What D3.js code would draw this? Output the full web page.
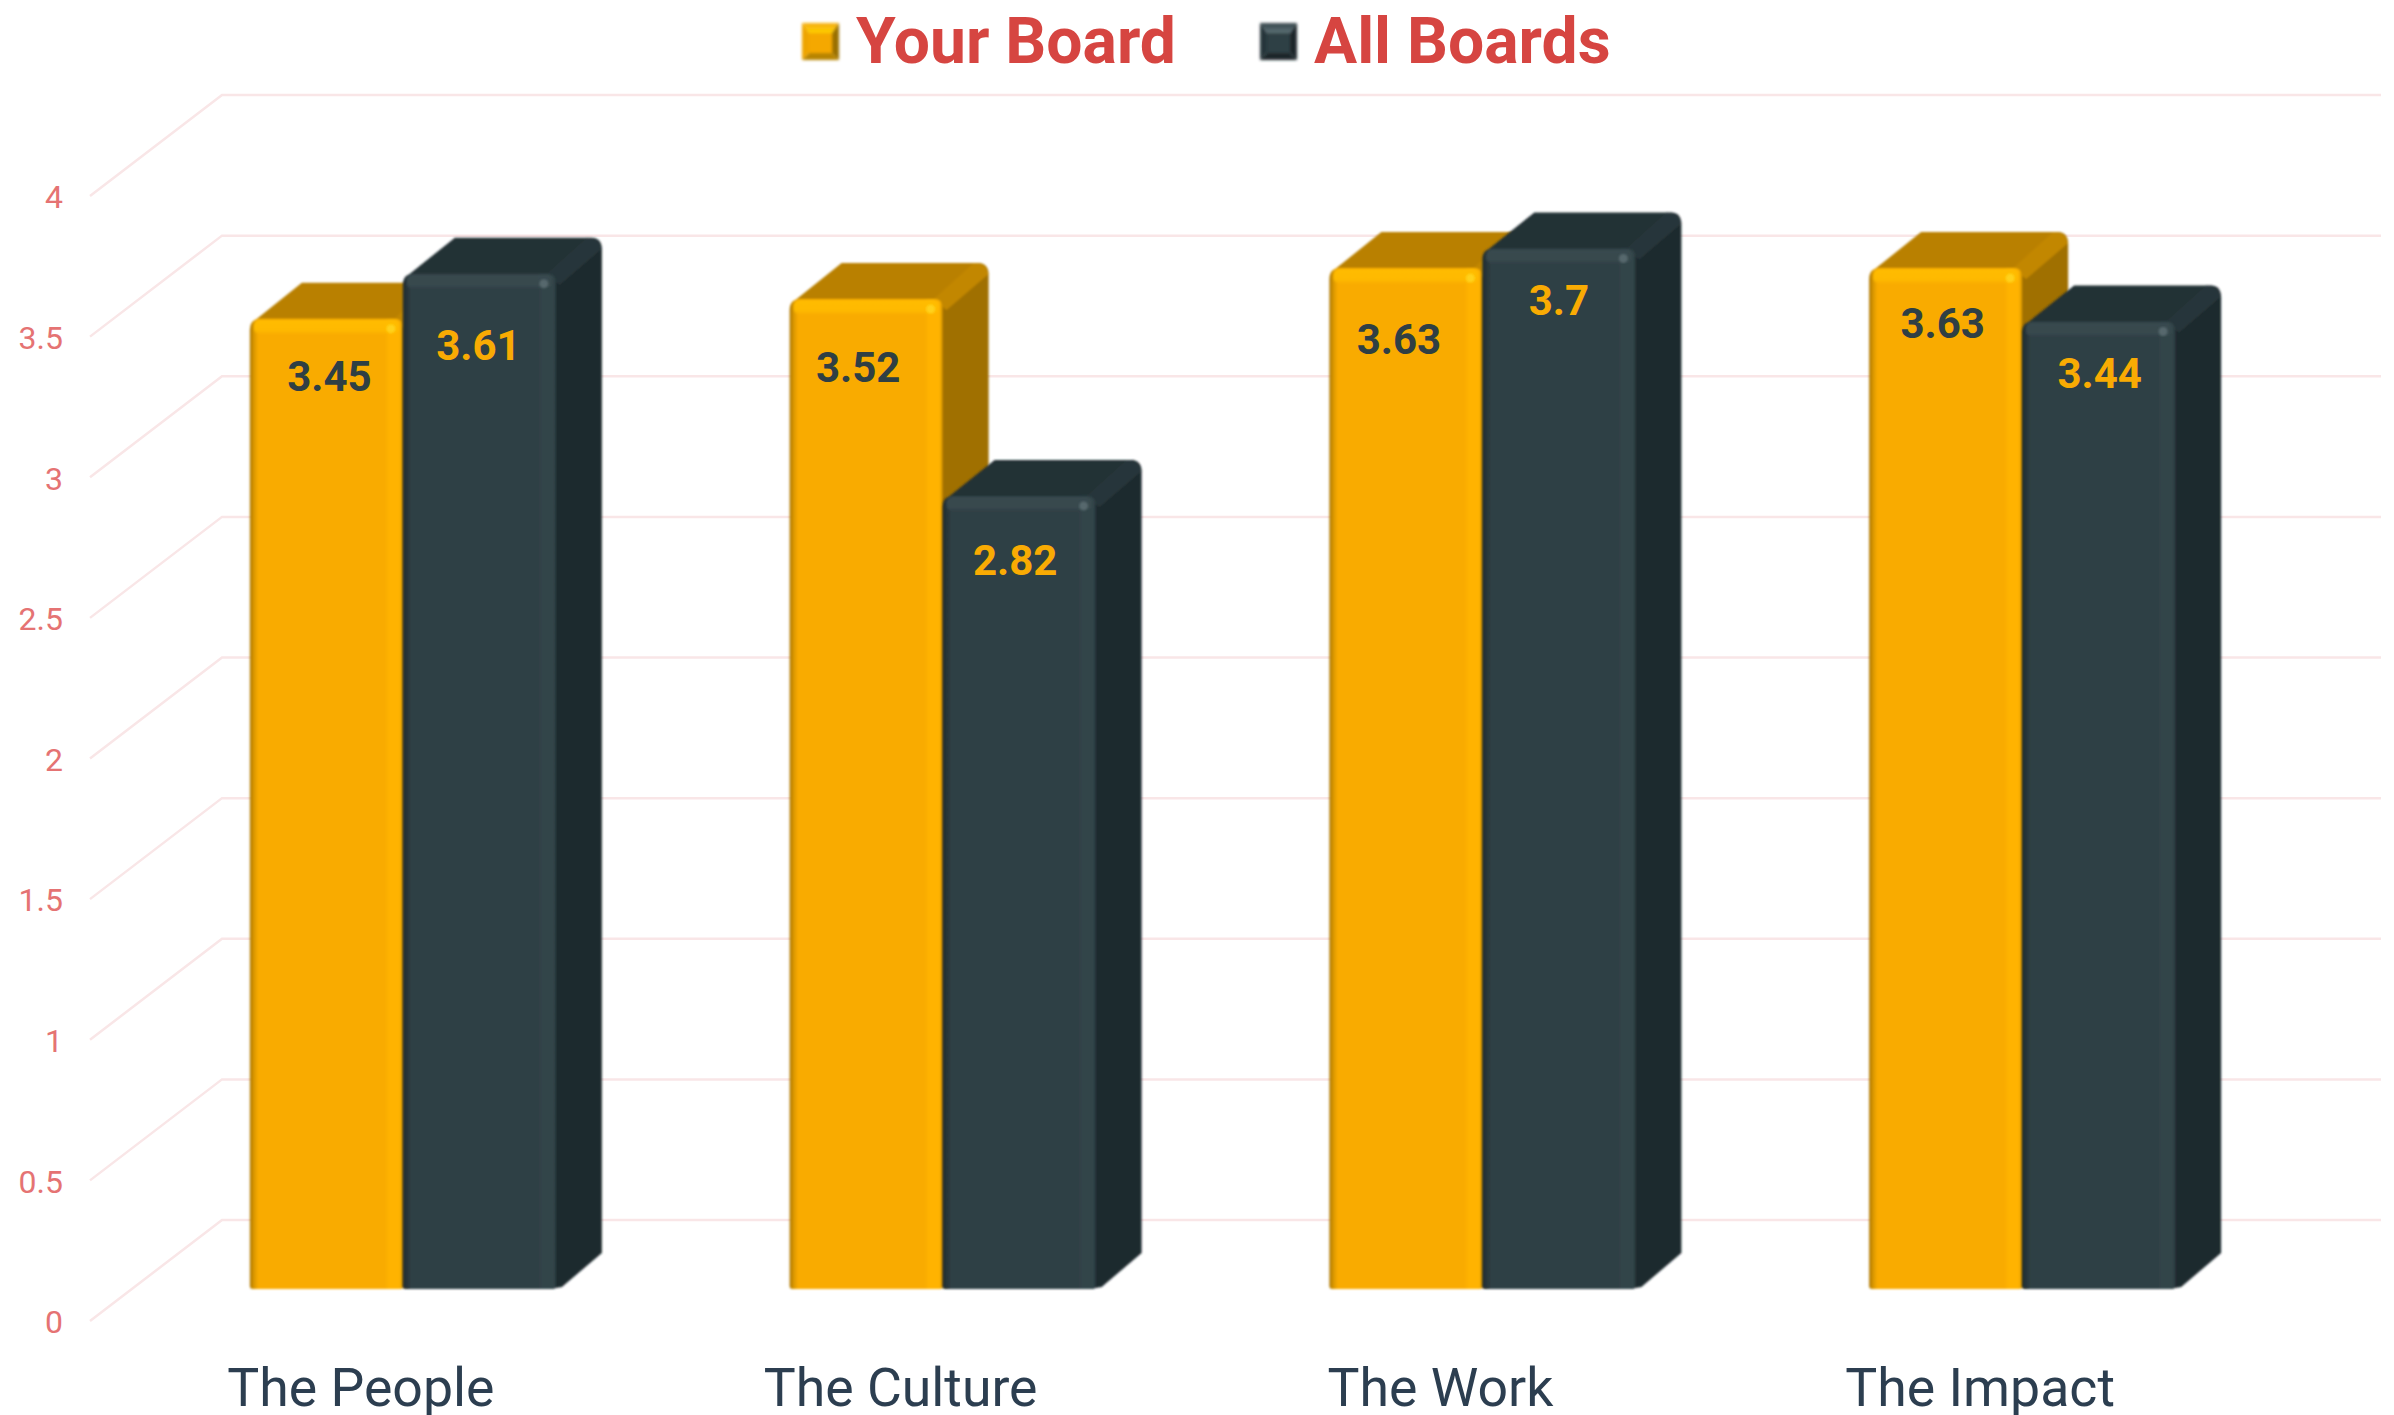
<!DOCTYPE html>
<html lang="en">
<head>
<meta charset="utf-8">
<title>Your Board vs All Boards</title>
<script src="https://d3js.org/d3.v7.min.js"></script>
<style>
html, body { margin: 0; padding: 0; background: #fff; }
svg { display: block; font-family: Roboto, sans-serif; }
.grid { stroke: #f9e6e7; stroke-width: 2.5px; fill: none; }
.axis text { font-family: Roboto, sans-serif; }
.y.axis text { font-size: 32px; fill: #e57373; }
.x.axis text { font-size: 53.6px; fill: #2c3e50; }
.axis path, .axis line { display: none; }
.value { font-size: 42px; font-weight: 700; text-anchor: middle; }
.legend text { font-size: 64.2px; font-weight: 700; fill: #d64541; }
</style>
</head>
<body>
<script>

// data
var categories = ["The People", "The Culture", "The Work", "The Impact"];
var seriesNames = ["Your Board", "All Boards"];
var yourBoard = [3.45, 3.52, 3.63, 3.63];
var allBoards = [3.61, 2.82, 3.7, 3.44];
var yTicks = [0, 0.5, 1, 1.5, 2, 2.5, 3, 3.5, 4];

// the value labels were hand placed in the original, so each has its own nudge
var yourLabelDx = [3, -8, -7, -3];
var yourLabelDrop = [72, 83, 86, 70];
var allLabelDx = [-1, -4, 0, 1];
var allLabelDrop = [86, 79, 67, 66];

var width = 2394, height = 1415;

// 3d box: floor runs from the front edge (frontX, y+frontY) to the back wall
var wall = {x: 132, y: 101};
var barDepth = {x: 46, y: 36};
var barInset = {x: 43, y: 32};
var plotLeft = 90, plotWidth = 2159;

var looks = [
  {front: "#f9ab03", top: "#b98000", side: "#a07000", edge: "#c28700", spot: "#ffd21a", text: "#2f3f44"},
  {front: "#2f3f44", top: "#243035", side: "#1f2a2e", edge: "#28363a", spot: "#56686d", text: "#f9ab03"}
];

var svg = d3.select("body").append("svg")
    .attr("width", width)
    .attr("height", height);

var defs = svg.append("defs");

defs.append("filter").attr("id", "soft")
    .append("feGaussianBlur").attr("stdDeviation", 1);
defs.append("filter").attr("id", "softer")
    .attr("x", "-50%").attr("y", "-50%").attr("width", "200%").attr("height", "200%")
    .append("feGaussianBlur").attr("stdDeviation", 1.8);

function addGradient(id, vertical, stops) {
  var g = defs.append("linearGradient").attr("id", id)
      .attr("x1", 0).attr("y1", 0)
      .attr("x2", vertical ? 0 : 1).attr("y2", vertical ? 1 : 0);
  stops.forEach(function(s) {
    g.append("stop").attr("offset", s[0]).attr("stop-color", s[1]).attr("stop-opacity", s[2] === undefined ? 1 : s[2]);
  });
}

addGradient("front0", false, [[0, "#a97400"], [0.025, "#d89600"], [0.055, "#f9ab03"], [0.885, "#f9ab03"], [0.91, "#ffb300"], [0.98, "#ffb300"], [1, "#cf9000"]]);
addGradient("front1", false, [[0, "#1f2b2f"], [0.055, "#2f3f44"], [0.885, "#2f3f44"], [0.91, "#324449"], [0.985, "#324449"], [1, "#2c3c41"]]);
addGradient("band0", true, [[0, "#ffbb00", 1], [0.7, "#ffbb00", 0.9], [1, "#ffbb00", 0]]);
addGradient("band1", true, [[0, "#38494f", 1], [0.7, "#38494f", 0.9], [1, "#38494f", 0]]);
addGradient("swatchTop0", true, [[0, "#f4ac10"], [1, "#ffd000"]]);
addGradient("swatchTop1", true, [[0, "#33444a"], [1, "#5d7177"]]);

// scales
var yScale = d3.scaleLinear().domain([0, 4]).range([1289, 164]);

var xFloor = d3.scaleBand().domain(categories)
    .range([plotLeft, plotLeft + plotWidth]);

var groupWidth = 306;
var groupPad = 1 - groupWidth / xFloor.step();
var xGroup = d3.scaleBand().domain(categories)
    .range([plotLeft + barInset.x, plotLeft + barInset.x + plotWidth])
    .paddingInner(groupPad)
    .paddingOuter(groupPad / 2);

var xSeries = d3.scaleBand().domain(seriesNames).range([0, xGroup.bandwidth()]);

// gridlines: side wall diagonal then back wall
svg.append("g").selectAll("path")
  .data(yTicks)
  .join("path")
    .attr("class", "grid")
    .attr("d", function(d) {
      var y = yScale(d) + barInset.y;
      return "M" + plotLeft + "," + y +
             "L" + (plotLeft + wall.x) + "," + (y - wall.y) +
             "H" + (plotLeft + wall.x + plotWidth);
    });

// axes
svg.append("g")
    .attr("class", "y axis")
    .attr("transform", "translate(63," + (barInset.y + 1.5) + ")")
    .call(d3.axisLeft(yScale).tickValues(yTicks).tickSize(0).tickPadding(0).tickFormat(d3.format("")));

svg.append("g")
    .attr("class", "x axis")
    .attr("transform", "translate(1,1368)")
    .call(d3.axisBottom(xFloor).tickSize(0).tickPadding(0));

// one bar, back faces first
function drawBar(parent, x, w, value, look, idx) {
  var top = yScale(value), base = yScale(0);
  var dx = barDepth.x, dy = barDepth.y;
  var g = parent.append("g").attr("filter", "url(#soft)");

  // side and top faces as a rounded silhouette
  g.append("path")
      .attr("fill", look.side)
      .attr("d", "M" + (x + w - 6) + "," + (top + 2) +
                 "L" + (x + w + dx - 11) + "," + (top - dy) +
                 "Q" + (x + w + dx) + "," + (top - dy) + " " + (x + w + dx) + "," + (top - dy + 12) +
                 "L" + (x + w + dx) + "," + (base - dy) +
                 "L" + (x + w + 6) + "," + (base - 2) +
                 "L" + (x + w - 6) + "," + base + "Z");

  g.append("path")
      .attr("fill", look.top)
      .attr("d", "M" + (x + 2) + "," + (top + 4) +
                 "L" + (x + 52) + "," + (top - dy) +
                 "L" + (x + w + dx - 11) + "," + (top - dy) +
                 "Q" + (x + w + dx - 3) + "," + (top - dy) + " " + (x + w + dx - 1) + "," + (top - dy + 7) +
                 "L" + (x + w - 2) + "," + (top + 8) + "Z");

  // lighter strip along the slanted top right edge
  g.append("path")
      .attr("fill", look.edge)
      .attr("d", "M" + (x + w - 10) + "," + (top + 1) +
                 "L" + (x + w + dx - 15) + "," + (top - dy) +
                 "Q" + (x + w + dx - 3) + "," + (top - dy) + " " + (x + w + dx) + "," + (top - dy + 11) +
                 "L" + (x + w + 4) + "," + (top + 11) + "Z");

  // front face
  g.append("path")
      .attr("fill", "url(#front" + idx + ")")
      .attr("d", "M" + x + "," + (base - 3) +
                 "V" + (top + 11) +
                 "Q" + x + "," + top + " " + (x + 11) + "," + top +
                 "H" + (x + w - 9) +
                 "Q" + (x + w) + "," + top + " " + (x + w) + "," + (top + 9) +
                 "V" + (base - 3) +
                 "Q" + (x + w) + "," + base + " " + (x + w - 3) + "," + base +
                 "H" + (x + 3) +
                 "Q" + x + "," + base + " " + x + "," + (base - 3) + "Z");

  g.append("rect")
      .attr("x", x + 4).attr("y", top + 1)
      .attr("width", w - 8).attr("height", 15)
      .attr("rx", 6)
      .attr("fill", "url(#band" + idx + ")");

  parent.append("circle")
      .attr("cx", x + w - 12).attr("cy", top + 10).attr("r", 4.5)
      .attr("fill", look.spot)
      .attr("filter", "url(#soft)");
}

var bars = svg.append("g");
var labels = svg.append("g");

categories.forEach(function(cat, i) {
  var gx = xGroup(cat);
  var vals = [yourBoard[i], allBoards[i]];
  var dxs = [yourLabelDx[i], allLabelDx[i]];
  var drops = [yourLabelDrop[i], allLabelDrop[i]];

  seriesNames.forEach(function(name, s) {
    var x = gx + xSeries(name);
    drawBar(bars, x, xSeries.bandwidth(), vals[s], looks[s], s);
    labels.append("text")
        .attr("class", "value")
        .attr("x", x + xSeries.bandwidth() / 2 + dxs[s])
        .attr("y", yScale(vals[s]) + drops[s])
        .attr("fill", looks[s].text)
        .text(vals[s]);
  });
});

// legend, little pyramid swatches
var legendSwatchX = [802, 1260];
var legendTextX = [856, 1314];
var legendSwatch = [
  {mid: "#f5a800", top: "url(#swatchTop0)", left: "#eea400", right: "#9a7000", bottom: "#b88400"},
  {mid: "#2f3f44", top: "url(#swatchTop1)", left: "#25343a", right: "#1a2529", bottom: "#1d282c"}
];

var legend = svg.append("g").attr("class", "legend");

seriesNames.forEach(function(name, s) {
  var x = legendSwatchX[s], y = 23, size = 37, inset = 7;
  var c = legendSwatch[s];
  var sw = legend.append("g").attr("filter", "url(#softer)");
  var x2 = x + size, y2 = y + size;
  var a = x + inset, b = y + inset + 3, e = x2 - inset, f = y2 - inset;
  var faces = [
    [c.top, [[x, y], [x2, y], [e, b], [a, b]]],
    [c.right, [[x2, y], [x2, y2], [e, f], [e, b]]],
    [c.bottom, [[x, y2], [x2, y2], [e, f], [a, f]]],
    [c.left, [[x, y], [x, y2], [a, f], [a, b]]],
    [c.mid, [[a, b], [e, b], [e, f], [a, f]]]
  ];
  faces.forEach(function(face) {
    sw.append("path").attr("fill", face[0]).attr("d", d3.line()(face[1]) + "Z");
  });
  legend.append("text")
      .attr("x", legendTextX[s])
      .attr("y", 63)
      .text(name);
});

</script>
</body>
</html>
